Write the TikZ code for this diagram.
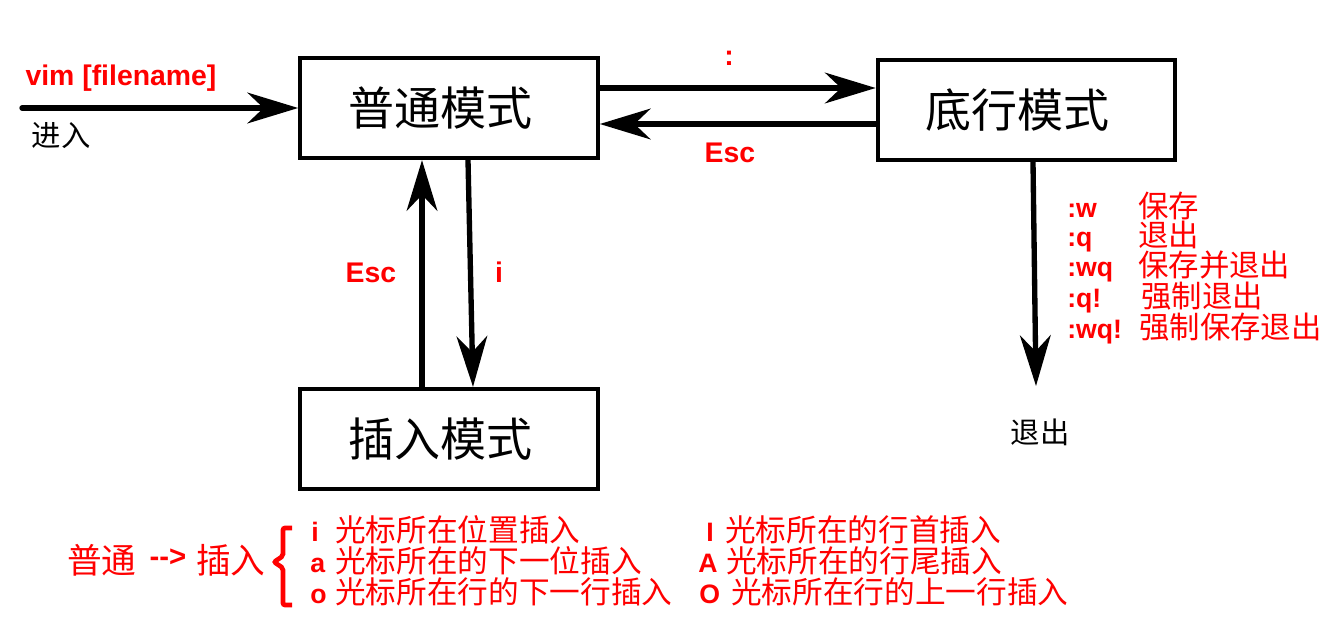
\documentclass[tikz,border=0pt]{standalone}
\usepackage{fontspec}
\setmainfont{Liberation Sans}
\newfontfamily\cjk{Noto Sans CJK SC}
\usetikzlibrary{arrows.meta}
\definecolor{lred}{RGB}{255,0,0}
\newcommand{\boxtextpad}{\rule{13.5pt}{0pt}}
\begin{document}
\begin{tikzpicture}[x=0.75pt,y=-0.75pt,
  modebox/.style={draw, line width=3.2pt, minimum width=223pt, minimum height=75pt, inner sep=0pt,
    font=\cjk\fontsize{34.5pt}{40pt}\selectfont},
  conn/.style={line width=4pt, -{Stealth[length=38pt,width=23pt,inset=12pt]}},
  lbl/.style={inner sep=0pt, text=lred, font=\bfseries\fontsize{21.3pt}{25pt}\selectfont},
  cmdtxt/.style={inner sep=0pt, anchor=base west, text=lred, font=\bfseries\fontsize{20pt}{24pt}\selectfont},
  cmdcn/.style={inner sep=0pt, anchor=base west, text=lred, font=\cjk\fontsize{22.8pt}{26pt}\selectfont},
  blk/.style={inner sep=0pt, font=\cjk\fontsize{22pt}{26pt}\selectfont},
  bl/.style={inner sep=0pt, anchor=base west, text=lred, font=\bfseries\fontsize{20pt}{24pt}\selectfont},
  bc/.style={inner sep=0pt, anchor=base west, text=lred, font=\cjk\fontsize{23pt}{27pt}\selectfont},
]
\useasboundingbox (0,0) rectangle (1328,635);

% mode boxes
\node[modebox] (normal) at (449,108) {普通模式\boxtextpad};
\node[modebox] (cmd) at (1026.5,110) {底行模式\boxtextpad};
\node[modebox] (insert) at (449,439) {插入模式\boxtextpad};

% helper coordinates
\coordinate (start) at (22,108);
\coordinate (ycolon) at (0,88);
\coordinate (yesc) at (0,124);
\coordinate (xesc) at (422,0);
\coordinate (xi1) at (468,0);
\coordinate (xi2) at (473,0);
\coordinate (xq) at (1033,0);
\coordinate (qend) at (1036,386);

% connectors
\draw[conn, line cap=round] (start) -- (normal.west);
\draw[conn] (normal.east |- ycolon) -- (cmd.west |- ycolon);
\draw[conn] (cmd.west |- yesc) -- (normal.east |- yesc);
\draw[conn] (insert.north -| xesc) -- (normal.south -| xesc);
\draw[conn] (normal.south -| xi1) -- (insert.north -| xi2);
\draw[conn] (cmd.south -| xq) -- (qend);

% labels
\node[lbl] (vim) at (121,78) {vim [filename]};
\node[blk] (enter) at (61,136) {进入};
\node[lbl] (colon) at (729,58) {:};
\node[lbl] (esc1) at (730,153) {Esc};
\node[lbl] (esc2) at (371,273) {Esc};
\node[lbl] (ilbl) at (499,272) {i};
\node[blk] (quit) at (1040,432) {退出};

% command list
\node[cmdtxt] (c1) at (1067,217) {:w};
\node[cmdtxt] (c2) at (1067,246) {:q};
\node[cmdtxt] (c3) at (1067,276) {:wq};
\node[cmdtxt] (c4) at (1067,307) {:q!};
\node[cmdtxt] (c5) at (1067,338) {:wq!};
\node[cmdcn] (d1) at (1138,217) {保存};
\node[cmdcn] (d2) at (1138,246) {退出};
\node[cmdcn] (d3) at (1138,276) {保存并退出};
\node[cmdcn] (d4) at (1141,307) {强制退出};
\node[cmdcn] (d5) at (1139,338) {强制保存退出};

% bottom legend
\node[inner sep=0pt, anchor=west, text=lred, font=\cjk\fontsize{26pt}{30pt}\selectfont] (pt) at (67,560) {普通};
\node[inner sep=0pt, text=lred, font=\bfseries\fontsize{22pt}{26pt}\selectfont] (arr) at (168,558) {-{}->};
\node[inner sep=0pt, anchor=west, text=lred, font=\cjk\fontsize{26pt}{30pt}\selectfont] (cr) at (196,560) {插入};
\draw[lred, line width=3.5pt, rounded corners=1.5pt]
  (292,528) -- (283,528) -- (283,556) -- (274,562) -- (283,568) -- (283,605) -- (292,605);

\node[bl] (l1) at (311,541) {i};
\node[bl] (l2) at (310,572) {a};
\node[bl] (l3) at (310,603) {o};
\node[bc] (m1) at (335,541) {光标所在位置插入};
\node[bc] (m2) at (335,572) {光标所在的下一位插入};
\node[bc] (m3) at (335,603) {光标所在行的下一行插入};

\node[bl] (r1) at (706,541) {I};
\node[bl] (r2) at (698,572) {A};
\node[bl] (r3) at (699,603) {O};
\node[bc] (s1) at (725,541) {光标所在的行首插入};
\node[bc] (s2) at (726,572) {光标所在的行尾插入};
\node[bc] (s3) at (731,603) {光标所在行的上一行插入};
\end{tikzpicture}
\end{document}
